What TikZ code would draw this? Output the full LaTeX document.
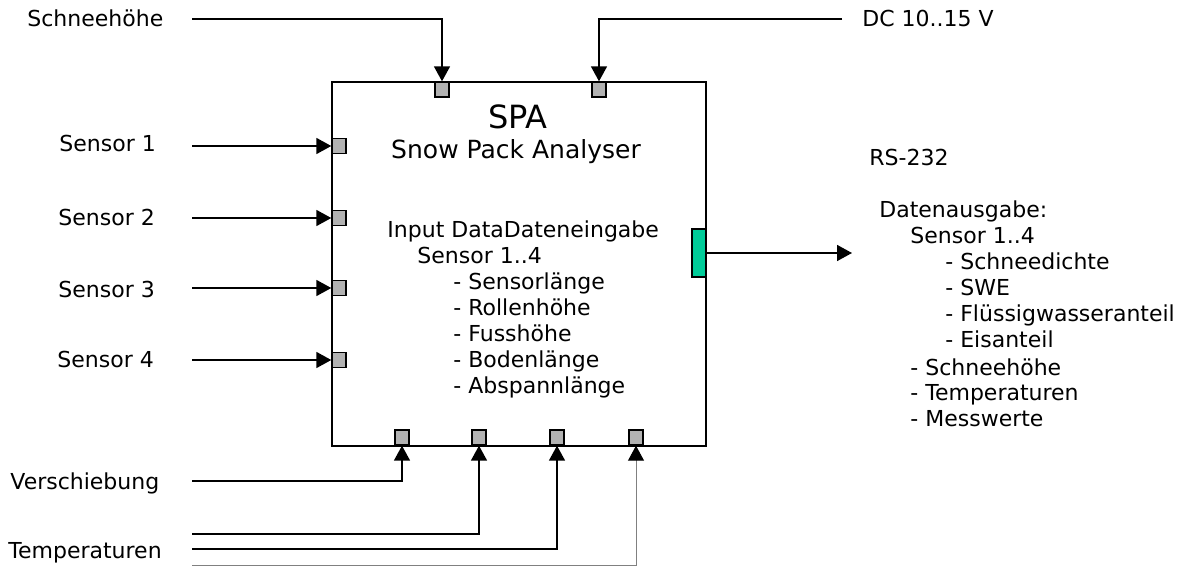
\documentclass[tikz,border=0pt]{standalone}
\usepackage{fontspec}
\setmainfont{DejaVu Sans}
\usetikzlibrary{arrows.meta}
\definecolor{portgrey}{RGB}{178,178,178}
\definecolor{outgreen}{RGB}{0,204,153}
\begin{document}
\begin{tikzpicture}[x=0.5pt,y=-0.5pt,
    txt/.style={font=\fontsize{11}{13}\selectfont,inner sep=0pt,anchor=base west},
    port/.style={draw,line width=0.7pt,fill=portgrey,minimum width=7pt,minimum height=7.5pt,inner sep=0pt},
    sig/.style={line width=0.8pt,-{Triangle[length=7.5pt,width=8pt]}},
    thinsig/.style={line width=0.5pt,draw=black!50,-{Triangle[length=7.5pt,width=8pt,color=black]}}]
  \useasboundingbox (0,0) rectangle (1178,567);
  \node[draw,line width=1pt,minimum width=187pt,minimum height=182pt,inner sep=0pt] (spa) at (519,264) {};
  \node[port] (t1) at (442,89.5) {}; \node[port] (t2) at (599,89.5) {};
  \node[port] (l1) at (339,146) {}; \node[port] (l2) at (339,218) {};
  \node[port] (l3) at (339,288) {}; \node[port] (l4) at (339,360) {};
  \node[port] (b1) at (402,437.5) {}; \node[port] (b2) at (479,437.5) {};
  \node[port] (b3) at (557,437.5) {}; \node[port] (b4) at (636,437.5) {};
  \node[draw,line width=0.9pt,fill=outgreen,minimum width=7pt,minimum height=24pt,inner sep=0pt] (out) at (699,253) {};

  \coordinate (snow) at (192,19); \coordinate (dc) at (842,19);
  \coordinate (in1) at (192,146); \coordinate (in2) at (192,218);
  \coordinate (in3) at (192,288); \coordinate (in4) at (192,360);
  \coordinate (vs) at (192,481); \coordinate (u2) at (192,534);
  \coordinate (tp) at (192,549); \coordinate (u4) at (192,565);
  \coordinate (rs) at (852,253);

  \draw[sig] (snow) -| (t1.north); \draw[sig] (dc) -| (t2.north);
  \draw[sig] (in1) -- (l1.west); \draw[sig] (in2) -- (l2.west);
  \draw[sig] (in3) -- (l3.west); \draw[sig] (in4) -- (l4.west);
  \draw[sig] (vs) -| (b1.south); \draw[sig] (u2) -| (b2.south);
  \draw[sig] (tp) -| (b3.south); \draw[thinsig] (u4) -| (b4.south);
  \draw[sig] (out.east) -- (rs);

  \node[txt] (lsnow) at (27,27) {Schneehöhe};
  \node[txt] (ldc) at (862,27) {DC 10..15 V};
  \node[txt] (ls1) at (59,152) {Sensor 1}; \node[txt] (ls2) at (58,225) {Sensor 2};
  \node[txt] (ls3) at (58,297) {Sensor 3}; \node[txt] (ls4) at (57,367) {Sensor 4};
  \node[txt] (lvs) at (10,489) {Verschiebung};
  \node[txt] (ltp) at (8,558) {Temperaturen};

  \node[font=\fontsize{16}{16}\selectfont,inner sep=0pt,anchor=base] (title) at (518,128) {SPA};
  \node[font=\fontsize{12.5}{14}\selectfont,inner sep=0pt,anchor=base] (sub) at (516,159) {Snow Pack Analyser};
  \node[txt] (inhead) at (387,237) {Input DataDateneingabe};
  \node[txt] (insens) at (417,263) {Sensor 1..4};
  \node[txt] (in-a) at (453,289) {- Sensorlänge};
  \node[txt] (in-b) at (453,315) {- Rollenhöhe};
  \node[txt] (in-c) at (453,341) {- Fusshöhe};
  \node[txt] (in-d) at (453,367) {- Bodenlänge};
  \node[txt] (in-e) at (453,393) {- Abspannlänge};

  \node[txt] (lrs) at (869,165) {RS-232};
  \node[txt] (outhead) at (879,217) {Datenausgabe:};
  \node[txt] (outsens) at (910,243) {Sensor 1..4};
  \node[txt] (out-a) at (945,269) {- Schneedichte};
  \node[txt] (out-b) at (945,295) {- SWE};
  \node[txt] (out-c) at (945,321) {- Flüssigwasseranteil};
  \node[txt] (out-d) at (945,347) {- Eisanteil};
  \node[txt] (out-e) at (910,375) {- Schneehöhe};
  \node[txt] (out-f) at (910,400) {- Temperaturen};
  \node[txt] (out-g) at (910,426) {- Messwerte};
\end{tikzpicture}
\end{document}
